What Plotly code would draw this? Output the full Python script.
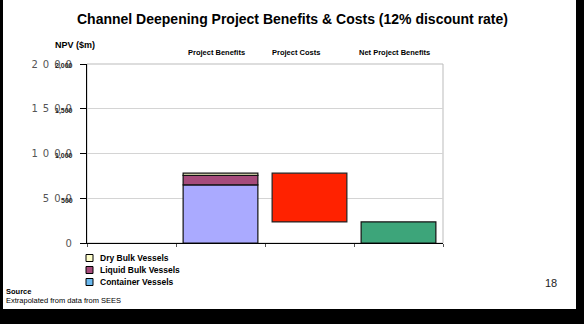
import plotly.graph_objects as go

# ---- data ----
categories = ["", "Project Benefits", "Project Costs", "Net Project Benefits"]
benefit_series = ["Container Vessels", "Liquid Bulk Vessels", "Dry Bulk Vessels"]
benefit_values = [650, 105, 25]
project_costs = 545
net_benefits = 235
y_tick_vals = [0, 500, 1000, 1500, 2000]
y_tick_big = ["0", "5\u20020\u20020", "1\u20020\u20020\u20020", "1\u20025\u20020\u20020", "2\u20020\u20020\u20020"]
y_tick_small = ["", "500", "1,000", "1,500", "2,000"]

# ---- styles ----
bar_colors = {"Container Vessels": "#AAAAFF", "Liquid Bulk Vessels": "#A64B7B", "Dry Bulk Vessels": "#FFFFCC"}
legend_colors = {"Container Vessels": "#6AB8EE", "Liquid Bulk Vessels": "#A64B7B", "Dry Bulk Vessels": "#FFFFCC"}
cost_color = "#FF2200"
net_color = "#3DA57A"
FONT = "Liberation Sans, Arial, sans-serif"

L, R, T, B = 87, 443, 64, 243
W, H = 584, 324


def px(x):
    return (x - L) / (R - L)


def py(y):
    return (B - y) / (B - T)


fig = go.Figure()
bw = 0.84
base = 0
for name, v in zip(benefit_series, benefit_values):
    fig.add_trace(go.Bar(x=[categories.index("Project Benefits")], y=[v], base=[base], width=bw,
                         name=name, showlegend=False,
                         marker=dict(color=bar_colors[name], line=dict(color="#111111", width=1.2))))
    base += v
total_benefits = base
fig.add_trace(go.Bar(x=[categories.index("Project Costs")], y=[project_costs],
                     base=[total_benefits - project_costs], width=bw, showlegend=False,
                     marker=dict(color=cost_color, line=dict(color="#222222", width=1.2))))
fig.add_trace(go.Bar(x=[categories.index("Net Project Benefits")], y=[net_benefits], base=[0],
                     width=bw, showlegend=False,
                     marker=dict(color=net_color, line=dict(color="#111111", width=1.2))))

shapes = []
# plot frame (top/right gray)
shapes.append(dict(type="rect", xref="paper", yref="paper", x0=0, x1=1, y0=0, y1=1,
                   line=dict(color="#BBBBBB", width=1), layer="below"))
# black page border
blk = dict(type="rect", xref="paper", yref="paper", fillcolor="black", line=dict(width=0))
shapes.append(dict(blk, x0=px(-2), x1=px(3), y0=py(-2), y1=py(H + 2)))
shapes.append(dict(blk, x0=px(576), x1=px(W + 2), y0=py(-2), y1=py(H + 2)))
shapes.append(dict(blk, x0=px(-2), x1=px(W + 2), y0=py(309), y1=py(H + 2)))

annotations = []
annotations.append(dict(text="<b>Channel Deepening Project Benefits & Costs (12% discount rate)</b>",
                        xref="paper", yref="paper", x=px(292), y=py(19), showarrow=False,
                        font=dict(size=14, color="black", family=FONT), xanchor="center", yanchor="middle"))
annotations.append(dict(text="<b>NPV ($m)</b>", xref="paper", yref="paper", x=px(53), y=py(45),
                        showarrow=False, font=dict(size=9, color="black", family=FONT),
                        xanchor="left", yanchor="middle"))
cat_label_x = {"Project Benefits": 216, "Project Costs": 295.5, "Net Project Benefits": 394}
for c in categories[1:]:
    annotations.append(dict(text="<b>" + c + "</b>", xref="paper", yref="paper", x=px(cat_label_x[c]),
                            y=py(52), showarrow=False, font=dict(size=7.5, color="black", family=FONT),
                            xanchor="center", yanchor="middle"))
for v, s in zip(y_tick_vals, y_tick_small):
    if s:
        annotations.append(dict(text="<b>" + s + "</b>", xref="paper", yref="y", x=px(75), y=v,
                                yshift=-2, showarrow=False,
                                font=dict(size=7, color="#222222", family="Liberation Sans Narrow, " + FONT),
                                xanchor="right", yanchor="middle"))
# legend (manual, compact)
legend_order = list(reversed(benefit_series))
for i, name in enumerate(legend_order):
    yc = 258 + 12 * i
    shapes.append(dict(type="rect", xref="paper", yref="paper", x0=px(86), x1=px(93),
                       y0=py(yc - 3.5), y1=py(yc + 3.5), fillcolor=legend_colors[name],
                       line=dict(color="black", width=1)))
    annotations.append(dict(text="<b>" + name + "</b>", xref="paper", yref="paper", x=px(98), y=py(yc),
                            showarrow=False, font=dict(size=8.5, color="black", family=FONT),
                            xanchor="left", yanchor="middle"))
annotations.append(dict(text="<b>Source</b>", xref="paper", yref="paper", x=px(4), y=py(291),
                        showarrow=False, font=dict(size=7.5, color="black", family=FONT),
                        xanchor="left", yanchor="middle"))
annotations.append(dict(text="Extrapolated from data from SEES", xref="paper", yref="paper", x=px(4),
                        y=py(300), showarrow=False, font=dict(size=7.5, color="black", family=FONT),
                        xanchor="left", yanchor="middle"))
annotations.append(dict(text="18", xref="paper", yref="paper", x=px(551), y=py(283),
                        showarrow=False, font=dict(size=11, color="#222222", family=FONT),
                        xanchor="center", yanchor="middle"))

fig.update_layout(
    width=W, height=H,
    margin=dict(l=L, r=W - R, t=T, b=H - B, pad=0),
    paper_bgcolor="white", plot_bgcolor="white",
    barmode="overlay",
    showlegend=False,
    font=dict(family=FONT, color="black"),
    shapes=shapes, annotations=annotations,
    xaxis=dict(range=[-0.5, 3.5], tickvals=[-0.5, 0.5, 1.5, 2.5, 3.5], ticktext=["", "", "", "", ""],
               ticks="outside", ticklen=3, tickcolor="#555555", showgrid=False, zeroline=False,
               showline=True, linecolor="black", linewidth=1, fixedrange=True),
    yaxis=dict(range=[0, 2000], tickvals=y_tick_vals, ticktext=y_tick_big, ticks="outside", ticklen=6,
               tickcolor="black", tickfont=dict(size=10, color="#555555", family="DejaVu Sans, sans-serif"),
               showgrid=True, gridcolor="#D4D4D4", gridwidth=1, zeroline=False,
               showline=True, linecolor="black", linewidth=1.2, ticklabelstandoff=6, fixedrange=True),
)

fig.write_html("out.html", config=dict(displayModeBar=False))
